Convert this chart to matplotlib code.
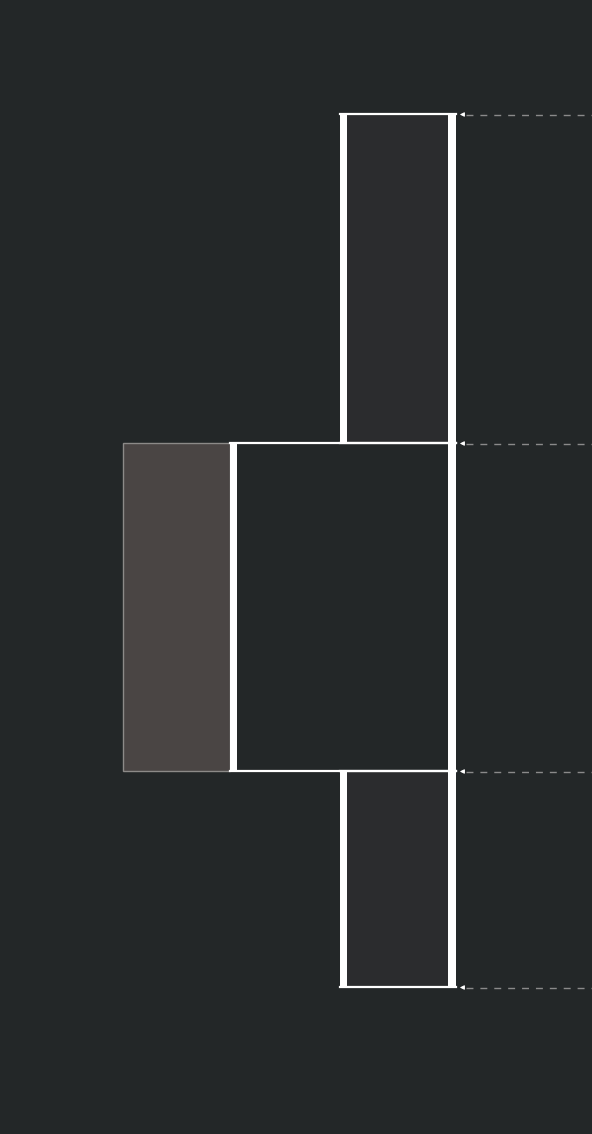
import matplotlib
matplotlib.use("Agg")
import matplotlib.pyplot as plt
import matplotlib.patches as patches

# segment data (top to bottom)
segments = ["top", "middle", "bottom"]
heights = [329, 328, 216]
widths = [116, 226, 116]
fills = ["#2b2c2e", "#232728", "#2b2c2e"]
side_width = 107          # grey block attached to the middle segment

BG = "#232728"
right_edge = 456
start_y = 114

fig = plt.figure(figsize=(5.92, 11.34), dpi=100, facecolor=BG)
ax = fig.add_axes([0, 0, 1, 1])
ax.set_facecolor(BG)
ax.set_xlim(0, 592)
ax.set_ylim(1134, 0)
ax.axis("off")

# boundaries
bounds = [start_y]
for h in heights:
    bounds.append(bounds[-1] + h)

for i, seg in enumerate(segments):
    y0, y1 = bounds[i], bounds[i + 1]
    x0 = right_edge - widths[i]
    ax.add_patch(patches.Rectangle((x0, y0), widths[i], y1 - y0,
                                   facecolor=fills[i], edgecolor="none", zorder=1))
    # thick left bar
    ax.add_patch(patches.Rectangle((x0, y0), 7, y1 - y0,
                                   facecolor="white", edgecolor="none", zorder=3))
    # thin top / bottom lines
    ax.plot([x0, right_edge], [y0, y0], color="white", lw=1.6, zorder=3)
    ax.plot([x0, right_edge], [y1, y1], color="white", lw=1.6, zorder=3)

    if seg == "middle":
        ax.add_patch(patches.Rectangle((x0 - side_width, y0), side_width, y1 - y0,
                                       facecolor="#4a4544", edgecolor="#8c8a88",
                                       lw=1.0, zorder=2))

# thick right bar across the whole stack
ax.add_patch(patches.Rectangle((right_edge - 8, bounds[0]), 8, bounds[-1] - bounds[0],
                               facecolor="white", edgecolor="none", zorder=3))

# dashed leader arrows at each boundary
for y in bounds:
    ax.plot([466, 592], [y + 0.5, y + 0.5], color="#8a8a8a", lw=1.0,
            dashes=(5, 5), zorder=2)
    ax.annotate("", xy=(457, y + 0.5), xytext=(466, y + 0.5),
                arrowprops=dict(arrowstyle="-|>", color="white", lw=0.8,
                                mutation_scale=6), zorder=4)

fig.savefig("out.png", dpi=100, facecolor=BG)
